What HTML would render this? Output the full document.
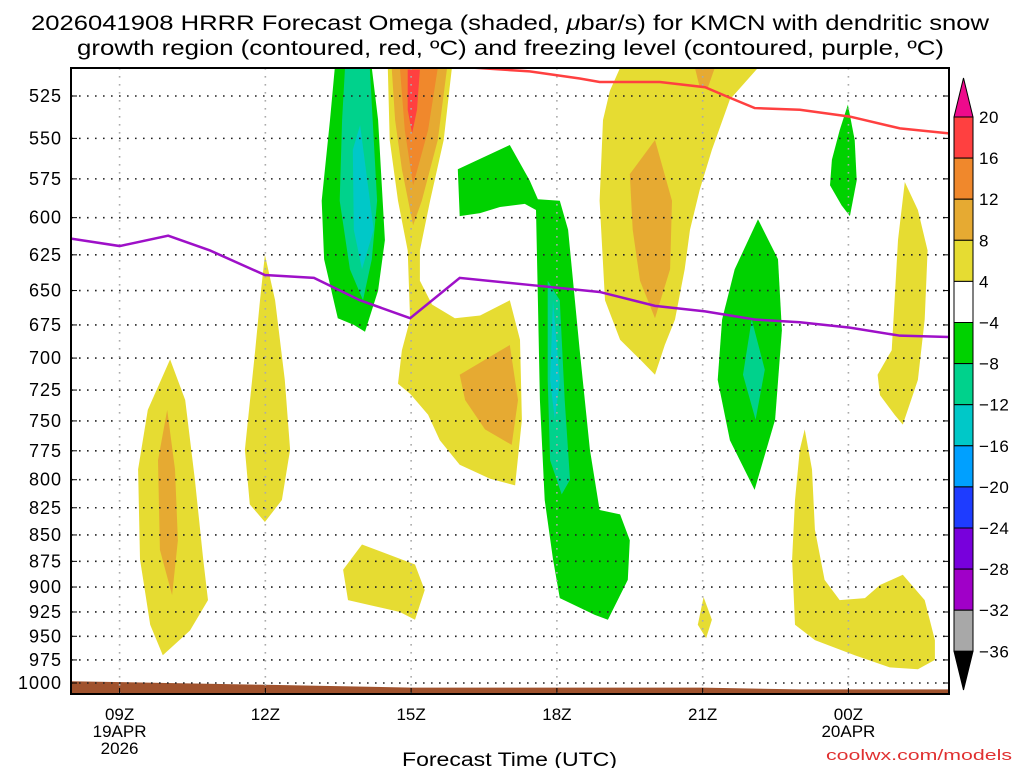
<!DOCTYPE html>
<html><head><meta charset="utf-8"><style>
body{margin:0;background:#fff;}
svg{display:block;font-family:"Liberation Sans",sans-serif;}
</style></head><body>
<svg id="chart" width="1024" height="768" viewBox="0 0 1024 768" xmlns="http://www.w3.org/2000/svg">
<text x="31" y="30" font-size="21" textLength="958" lengthAdjust="spacingAndGlyphs">2026041908 HRRR Forecast Omega (shaded, <tspan font-style="italic">μ</tspan>bar/s) for KMCN with dendritic snow</text>
<text x="77" y="55" font-size="21" textLength="867" lengthAdjust="spacingAndGlyphs">growth region (contoured, red, ºC) and freezing level (contoured, purple, ºC)</text>
<g id="plot"></g>
<g id="axes"></g>
<g id="cbar"></g>
<text x="402" y="766" font-size="19" textLength="215" lengthAdjust="spacingAndGlyphs">Forecast Time (UTC)</text>
<text x="826" y="760" font-size="15" fill="#e03030" textLength="186" lengthAdjust="spacingAndGlyphs">coolwx.com/models</text>
</svg>
<script>
const pressureTicks=[525,550,575,600,625,650,675,700,725,750,775,800,825,850,875,900,925,950,975,1000];
const timeTickHours=[9,12,15,18,21,24];
const timeTickLabels=[["09Z","19APR","2026"],["12Z"],["15Z"],["18Z"],["21Z"],["00Z","20APR"]];
const cbarLevels=[20,16,12,8,4,-4,-8,-12,-16,-20,-24,-28,-32,-36];
const cbarColors=["#ff4040","#f0882c","#e6aa32","#e6dc32","#ffffff","#00d200","#00d28c","#00c8c8","#00a0ff","#1e3cff","#7800dc","#a000c8","#a8a8a8"];
const C={y:"#e6dc32",g8:"#e6aa32",o:"#f0882c",r:"#ff4040",gr:"#00d200",tl:"#00d28c",cy:"#00c8c8"};
const contours=[
 ["yellow-10z",C.y,[[10.04,701],[10.35,733],[10.55,800],[10.72,873],[10.82,913],[10.45,944],[9.89,970],[9.63,938],[9.42,873],[9.38,791],[9.58,741]]],
 ["gold-10z",C.g8,[[9.98,741],[10.14,791],[10.2,855],[10.08,908],[9.83,864],[9.79,783]]],
 ["yellow-12z",C.y,[[11.99,625],[12.2,657],[12.4,717],[12.51,774],[12.34,818],[11.99,838],[11.68,822],[11.58,774],[11.79,694],[11.89,657]]],
 ["green-14z",C.gr,[[13.43,509],[14.19,509],[14.32,539],[14.46,615],[14.32,650],[14.05,680],[13.82,675],[13.49,670],[13.21,628],[13.16,589],[13.33,539]]],
 ["teal-14z",C.tl,[[13.64,509],[14.15,509],[14.3,589],[14.19,628],[14.01,657],[13.74,635],[13.53,589],[13.58,539]]],
 ["cyan-14z",C.cy,[[13.95,542],[14.23,608],[13.99,635],[13.82,608],[13.8,557]]],
 ["yellow-15z",C.y,[[14.52,509],[15.84,509],[15.67,551],[15.39,589],[15.18,622],[15.18,643],[15.43,660],[15.9,670],[16.42,668],[17.03,657],[17.24,686],[17.28,749],[17.14,805],[16.62,799],[16.0,787],[15.59,766],[15.35,745],[14.98,728],[14.73,720],[14.81,694],[14.98,671],[14.93,622],[14.73,589],[14.56,551]]],
 ["gold-15z",C.g8,[[14.6,509],[15.74,509],[15.55,551],[15.22,589],[15.04,605],[14.81,569],[14.67,539]]],
 ["orange-15z",C.o,[[14.77,509],[15.55,509],[15.35,545],[15.04,579],[14.87,545]]],
 ["red-15z",C.r,[[14.93,510],[15.18,510],[15.12,533],[15.02,547],[14.93,533]]],
 ["gold-17z",C.g8,[[16.0,713],[17.03,690],[17.2,733],[17.07,770],[16.52,757],[16.11,733]]],
 ["yellow-15z-low",C.y,[[13.99,859],[15.08,878],[15.28,903],[15.08,933],[14.77,925],[14.15,918],[13.7,913],[13.6,883]]],
 ["green-18z",C.gr,[[15.96,569],[17.03,554],[17.44,576],[17.61,588],[18.06,589],[18.23,608],[18.47,694],[18.68,774],[18.88,827],[19.3,831],[19.5,855],[19.46,893],[19.05,933],[18.78,928],[18.06,911],[17.92,873],[17.75,818],[17.65,733],[17.61,657],[17.57,595],[17.34,591],[16.83,593],[16.42,597],[16.0,599]]],
 ["teal-18z",C.tl,[[17.81,643],[18.06,657],[18.16,733],[18.27,800],[18.1,813],[17.86,783],[17.81,717]]],
 ["cyan-18z",C.cy,[[17.92,657],[18.06,717],[17.96,749],[17.86,717]]],
 ["yellow-20z",C.y,[[19.3,509],[22.14,509],[21.56,527],[21.19,557],[20.94,582],[20.74,608],[20.63,635],[20.43,671],[20.22,690],[20.02,713],[19.71,701],[19.3,686],[18.99,657],[18.88,589],[18.95,539],[19.09,522]]],
 ["gold-20z",C.g8,[[19.5,572],[20.02,551],[20.37,589],[20.33,635],[20.02,670],[19.71,643],[19.56,608]]],
 ["gold-21z-top",C.g8,[[20.84,509],[21.25,509],[21.11,520],[20.94,520]]],
 ["green-22z",C.gr,[[22.14,601],[22.55,628],[22.63,679],[22.49,749],[22.07,809],[21.56,766],[21.31,717],[21.4,671],[21.66,635]]],
 ["teal-22z",C.tl,[[22.01,671],[22.28,709],[22.09,749],[21.83,713]]],
 ["yellow-21z-low",C.y,[[21.02,910],[21.19,933],[21.07,952],[20.9,938]]],
 ["green-00z",C.gr,[[23.99,530],[24.13,551],[24.17,576],[24.03,599],[23.86,592],[23.62,579],[23.66,563],[23.82,545]]],
 ["yellow-01z",C.y,[[25.16,577],[25.43,595],[25.63,622],[25.57,671],[25.43,717],[25.12,753],[24.95,745],[24.65,729],[24.6,713],[24.89,694],[24.95,657],[25.02,615]]],
 ["yellow-00z-low",C.y,[[23.1,757],[23.25,791],[23.31,845],[23.51,893],[23.82,913],[24.34,911],[24.65,898],[25.12,888],[25.57,913],[25.78,954],[25.78,975],[25.43,985],[24.85,983],[24.13,970],[23.31,954],[22.9,938],[22.84,873],[22.9,818],[23.0,774]]]
];
const dgzHours=[16.31,17.44,18.47,18.88,20.12,21.05,21.56,22.07,23.0,24.03,25.06,26.07];
const dgzPres=[509,511,515,517,517,520,526,532,533,537,544,547];
const frzHours=[8,9,10,10.86,11.99,13,13.95,14.98,16.0,17.44,18.88,20.02,21.05,22.07,23.0,24.03,25.06,26.07];
const frzPres=[614,619,612,622,639,641,657,670,641,646,651,661,665,671,673,677,683,684];
const sfcHours=[8,12,15,18,21,23,26.07];
const sfcPres=[998,1002,1005,1005,1005,1007,1007];

const X0=71,X1=949,Y0=68,Y1=694,H0=8,H1=26.07;
const xs=h=>X0+(h-H0)*(X1-X0)/(H1-H0);
const ys=p=>96+911*Math.log(p/525);
const NS="http://www.w3.org/2000/svg";
function mk(tag,attrs,parent){const e=document.createElementNS(NS,tag);for(const k in attrs)e.setAttribute(k,attrs[k]);parent.appendChild(e);return e;}
const plot=document.getElementById('plot'),axes=document.getElementById('axes'),cbar=document.getElementById('cbar');
const cp=mk('clipPath',{id:'clip'},plot);mk('rect',{x:X0,y:Y0,width:X1-X0,height:Y1-Y0},cp);
const g=mk('g',{'clip-path':'url(#clip)'},plot);
contours.forEach(c=>{
 const p=mk('polygon',{points:c[2].map(q=>xs(q[0]).toFixed(1)+','+ys(q[1]).toFixed(1)).join(' '),fill:c[1]},g);
 
 
});
let tp=sfcHours.map((h,i)=>xs(h).toFixed(1)+','+ys(sfcPres[i]).toFixed(1));
tp.push(X1+','+Y1,X0+','+Y1);
const terr=mk('polygon',{points:tp.join(' '),fill:'#a0522d'},g);


pressureTicks.forEach(p=>{
 const l=mk('line',{x1:X0,x2:X1,y1:ys(p),y2:ys(p),stroke:'#222','stroke-width':1.6,'stroke-dasharray':'1.6,6.4'},g);
 
 
});
timeTickHours.forEach(h=>{
 const l=mk('line',{x1:xs(h),x2:xs(h),y1:Y0,y2:Y1,stroke:'#aaa','stroke-width':1.6,'stroke-dasharray':'1.6,6.4'},g);
 
 
});
const dl=mk('polyline',{points:dgzHours.map((h,i)=>xs(h)+','+ys(dgzPres[i])).join(' '),fill:'none',stroke:'#ff4040','stroke-width':2.5},g);


const fl=mk('polyline',{points:frzHours.map((h,i)=>xs(h)+','+ys(frzPres[i])).join(' '),fill:'none',stroke:'#9e10c8','stroke-width':2.5},g);


const fr=mk('rect',{x:X0,y:Y0,width:X1-X0,height:Y1-Y0,fill:'none',stroke:'#000','stroke-width':2},axes);


pressureTicks.forEach(p=>{
 const t=mk('text',{x:62,y:ys(p)+6,'font-size':18,'letter-spacing':1,'text-anchor':'end'},axes);t.textContent=p;
 
 
 mk('line',{x1:X0,x2:X0+6,y1:ys(p),y2:ys(p),stroke:'#000'},axes);
 mk('line',{x1:X1-6,x2:X1,y1:ys(p),y2:ys(p),stroke:'#000'},axes);
});
timeTickHours.forEach((h,i)=>{
 mk('line',{x1:xs(h),x2:xs(h),y1:Y1,y2:Y1-6,stroke:'#000'},axes);
 timeTickLabels[i].forEach((s,j)=>{
  const t=mk('text',{x:xs(h),y:720+j*17,'font-size':17,'text-anchor':'middle'},axes);t.textContent=s;
  
  
 });
});
const CX=954,CW=19,CT=117,CS=41.1;
const tri=mk('polygon',{points:`${CX},${CT} ${CX+CW/2},78 ${CX+CW},${CT}`,fill:'#ee0a8c',stroke:'#000'},cbar);


cbarColors.forEach((c,i)=>{
 const r=mk('rect',{x:CX,y:CT+i*CS,width:CW,height:CS,fill:c,stroke:'#000','stroke-width':1},cbar);
 
 
});
const tri2=mk('polygon',{points:`${CX},${CT+13*CS} ${CX+CW/2},690 ${CX+CW},${CT+13*CS}`,fill:'#000',stroke:'#000'},cbar);


cbarLevels.forEach((v,i)=>{
 const t=mk('text',{x:979,y:CT+i*CS+6,'font-size':17,'letter-spacing':0.5},cbar);t.textContent=v<0?'\u2212'+(-v):v;
 
 
});
</script>
</body></html>
